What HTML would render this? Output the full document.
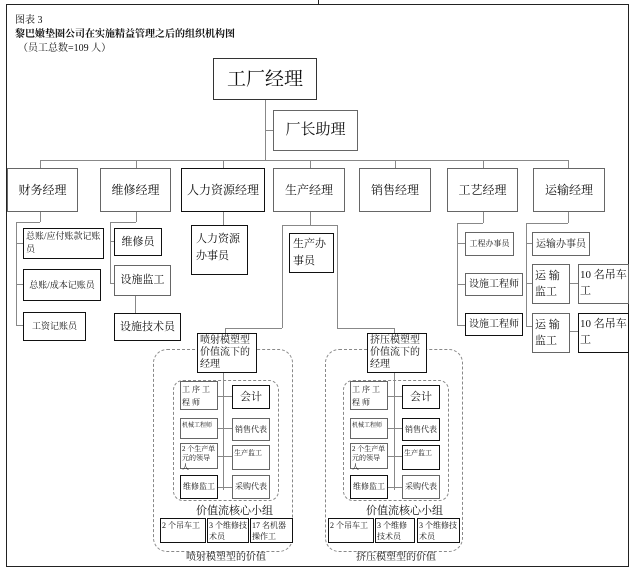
<!DOCTYPE html>
<html><head><meta charset="utf-8"><style>
body{margin:0;width:640px;height:569px;background:#fff;position:relative;overflow:hidden;font-family:"Liberation Serif","Noto Serif CJK SC","Noto Sans CJK SC",serif;color:#111}
.b{position:absolute;border:1px solid #666;box-sizing:border-box;background:#fff;font-size:11px;line-height:17px;padding:2px 3px}
.k{border:1.5px solid #111}
.c{display:flex;align-items:center;justify-content:center;text-align:center}
.h{position:absolute;height:0;border-top:1px solid #888}
.v{position:absolute;width:0;border-left:1px solid #888}
.s{font-size:8px;line-height:12px;padding:1px;white-space:nowrap}
.w{white-space:normal}
.d{position:absolute;border:1px dashed #888;border-radius:14px;box-sizing:border-box}
.t{position:absolute;font-size:11px;white-space:nowrap}
</style></head><body>
<div style="position:absolute;left:6px;top:4px;width:623px;height:563px;border:1px solid #222;border-right:1.5px solid #222;box-sizing:border-box"></div>
<div class="v" style="left:318px;top:0;height:4px;border-color:#222"></div>
<div class="t" style="left:15px;top:11px;font-size:10px">图表 3</div>
<div class="t" style="left:15px;top:25px;font-size:10px;font-weight:bold">黎巴嫩垫圈公司在实施精益管理之后的组织机构图</div>
<div class="t" style="left:18px;top:39px;font-size:10px">（员工总数=109 人）</div>

<div class="b c k" style="left:213px;top:58px;width:104px;height:42px;font-size:19px;border-color:#333">工厂经理</div>
<div class="v" style="left:265px;top:100px;height:60px"></div>
<div class="h" style="left:265px;top:130px;width:8px"></div>
<div class="b c" style="left:273px;top:110px;width:85px;height:41px;font-size:15px">厂长助理</div>
<div class="h" style="left:40px;top:160px;width:528px"></div>
<div class="v" style="left:40px;top:160px;height:8px"></div>
<div class="v" style="left:136px;top:160px;height:8px"></div>
<div class="v" style="left:223px;top:160px;height:8px"></div>
<div class="v" style="left:310px;top:160px;height:8px"></div>
<div class="v" style="left:395px;top:160px;height:8px"></div>
<div class="v" style="left:483px;top:160px;height:8px"></div>
<div class="v" style="left:568px;top:160px;height:8px"></div>

<div class="b c" style="left:7px;top:168px;width:71px;height:44px;font-size:12px">财务经理</div>
<div class="b c" style="left:100px;top:168px;width:71px;height:44px;font-size:12px">维修经理</div>
<div class="b c k" style="left:181px;top:168px;width:84px;height:44px;font-size:12px">人力资源经理</div>
<div class="b c" style="left:273px;top:168px;width:72px;height:44px;font-size:12px">生产经理</div>
<div class="b c" style="left:359px;top:168px;width:72px;height:44px;font-size:12px">销售经理</div>
<div class="b c" style="left:447px;top:168px;width:71px;height:44px;font-size:12px">工艺经理</div>
<div class="b c" style="left:533px;top:168px;width:72px;height:44px;font-size:12px">运输经理</div>

<!-- 财务 -->
<div class="v" style="left:40px;top:212px;height:10px"></div>
<div class="h" style="left:16px;top:222px;width:24px"></div>
<div class="v" style="left:16px;top:222px;height:104px"></div>
<div class="h" style="left:16px;top:243px;width:7px"></div>
<div class="h" style="left:16px;top:284px;width:7px"></div>
<div class="h" style="left:16px;top:325px;width:7px"></div>
<div class="b k" style="left:23px;top:228px;width:81px;height:31px;font-size:9px;line-height:13px;padding:1px 2px">总账/应付账款记账员</div>
<div class="b k c" style="left:23px;top:269px;width:78px;height:32px;font-size:9px;padding:1px">总账/成本记账员</div>
<div class="b k c" style="left:23px;top:312px;width:63px;height:29px;font-size:9px;padding:1px">工资记账员</div>

<!-- 维修 -->
<div class="v" style="left:136px;top:212px;height:10px"></div>
<div class="h" style="left:110px;top:222px;width:26px"></div>
<div class="v" style="left:110px;top:222px;height:62px"></div>
<div class="h" style="left:110px;top:241px;width:4px"></div>
<div class="h" style="left:110px;top:283px;width:4px"></div>
<div class="b c k" style="left:114px;top:228px;width:48px;height:28px">维修员</div>
<div class="b c" style="left:114px;top:265px;width:57px;height:31px">设施监工</div>
<div class="v" style="left:135px;top:296px;height:17px"></div>
<div class="b c k" style="left:114px;top:313px;width:67px;height:28px">设施技术员</div>

<!-- 人力 -->
<div class="v" style="left:223px;top:212px;height:13px"></div>
<div class="b k" style="left:191px;top:225px;width:57px;height:50px;padding:5px 4px;font-size:11px">人力资源办事员</div>

<!-- 生产 -->
<div class="v" style="left:310px;top:212px;height:13px"></div>
<div class="h" style="left:282px;top:225px;width:55px"></div>
<div class="v" style="left:282px;top:225px;height:103px"></div>
<div class="b k" style="left:289px;top:233px;width:45px;height:40px;font-size:11px;line-height:17px">生产办事员</div>
<div class="h" style="left:225px;top:328px;width:57px"></div>
<div class="v" style="left:225px;top:328px;height:6px"></div>
<div class="v" style="left:337px;top:225px;height:103px"></div>
<div class="h" style="left:337px;top:328px;width:57px"></div>
<div class="v" style="left:394px;top:328px;height:6px"></div>

<!-- 工艺 -->
<div class="v" style="left:483px;top:212px;height:11px"></div>
<div class="h" style="left:457px;top:223px;width:26px"></div>
<div class="v" style="left:457px;top:223px;height:103px"></div>
<div class="h" style="left:457px;top:243px;width:8px"></div>
<div class="h" style="left:457px;top:284px;width:8px"></div>
<div class="h" style="left:457px;top:325px;width:8px"></div>
<div class="b c s" style="left:465px;top:232px;width:49px;height:24px">工程办事员</div>
<div class="b c" style="left:465px;top:273px;width:58px;height:23px;font-size:10px;padding:1px">设施工程师</div>
<div class="b c k" style="left:465px;top:313px;width:58px;height:23px;font-size:10px;padding:1px">设施工程师</div>

<!-- 运输 -->
<div class="v" style="left:568px;top:212px;height:11px"></div>
<div class="h" style="left:526px;top:223px;width:42px"></div>
<div class="v" style="left:526px;top:223px;height:104px"></div>
<div class="h" style="left:526px;top:243px;width:6px"></div>
<div class="h" style="left:526px;top:283px;width:6px"></div>
<div class="h" style="left:526px;top:326px;width:6px"></div>
<div class="b c" style="left:532px;top:232px;width:58px;height:24px;font-size:10px;padding:1px">运输办事员</div>
<div class="b" style="left:532px;top:264px;width:38px;height:40px;line-height:16px;padding:3px 2px;white-space:nowrap">运 输<br>监工</div>
<div class="h" style="left:570px;top:283px;width:8px"></div>
<div class="b" style="left:578px;top:264px;width:51px;height:40px;line-height:16px;padding:2px 1px">10 名吊车工</div>
<div class="b" style="left:532px;top:313px;width:38px;height:40px;line-height:16px;padding:3px 2px;white-space:nowrap">运 输<br>监工</div>
<div class="h" style="left:570px;top:331px;width:8px"></div>
<div class="b k" style="left:578px;top:313px;width:51px;height:40px;line-height:16px;padding:2px 1px">10 名吊车工</div>

<!-- Value stream 1 -->
<div class="d" style="left:153px;top:349px;width:140px;height:203px"></div>
<div class="d" style="left:173px;top:380px;width:106px;height:121px;border-radius:10px"></div>
<div class="v" style="left:223px;top:372px;height:118px"></div>
<div class="h" style="left:218px;top:396px;width:14px"></div>
<div class="h" style="left:218px;top:428px;width:14px"></div>
<div class="h" style="left:218px;top:456px;width:14px"></div>
<div class="h" style="left:218px;top:487px;width:14px"></div>
<div class="b k" style="left:197px;top:333px;width:60px;height:40px;font-size:10px;line-height:12px;padding:1px 2px">喷射模塑型价值流下的经理</div>
<div class="b s w" style="left:180px;top:381px;width:38px;height:29px;line-height:13px">工 序 工 程 师</div>
<div class="b s" style="left:180px;top:418px;width:38px;height:21px;font-size:6px">机械工程师</div>
<div class="b s w" style="left:180px;top:443px;width:38px;height:26px;font-size:7px;line-height:9px">2 个生产单元的领导人</div>
<div class="b c s k" style="left:180px;top:475px;width:38px;height:24px">维修监工</div>
<div class="b c k" style="left:232px;top:385px;width:38px;height:24px;font-size:11px">会计</div>
<div class="b c s" style="left:232px;top:418px;width:38px;height:23px">销售代表</div>
<div class="b s" style="left:232px;top:445px;width:38px;height:25px;font-size:7px">生产监工</div>
<div class="b c s" style="left:232px;top:475px;width:38px;height:24px">采购代表</div>
<div class="t" style="left:196px;top:502px">价值流核心小组</div>
<div class="b s k w" style="left:160px;top:518px;width:46px;height:25px;line-height:11px">2 个吊车工</div>
<div class="b s k w" style="left:207px;top:518px;width:42px;height:25px;line-height:11px">3 个维修技术员</div>
<div class="b s k w" style="left:250px;top:518px;width:43px;height:25px;line-height:11px">17 名机器操作工</div>
<div class="t" style="left:186px;top:548px;font-size:10px">喷射模塑型的价值</div>

<!-- Value stream 2 -->
<div class="d" style="left:325px;top:349px;width:138px;height:203px"></div>
<div class="d" style="left:343px;top:380px;width:106px;height:121px;border-radius:10px"></div>
<div class="v" style="left:394px;top:372px;height:118px"></div>
<div class="h" style="left:388px;top:396px;width:14px"></div>
<div class="h" style="left:388px;top:428px;width:14px"></div>
<div class="h" style="left:388px;top:456px;width:14px"></div>
<div class="h" style="left:388px;top:487px;width:14px"></div>
<div class="b k" style="left:367px;top:333px;width:60px;height:40px;font-size:10px;line-height:12px;padding:1px 2px">挤压模塑型价值流下的经理</div>
<div class="b s w" style="left:350px;top:381px;width:38px;height:29px;line-height:13px">工 序 工 程 师</div>
<div class="b s" style="left:350px;top:418px;width:38px;height:21px;font-size:6px">机械工程师</div>
<div class="b s w" style="left:350px;top:443px;width:38px;height:26px;font-size:7px;line-height:9px">2 个生产单元的领导人</div>
<div class="b c s k" style="left:350px;top:475px;width:38px;height:24px">维修监工</div>
<div class="b c k" style="left:402px;top:385px;width:38px;height:24px;font-size:11px">会计</div>
<div class="b c s k" style="left:402px;top:418px;width:38px;height:23px">销售代表</div>
<div class="b s k" style="left:402px;top:445px;width:38px;height:25px;font-size:7px">生产监工</div>
<div class="b c s" style="left:402px;top:475px;width:38px;height:24px">采购代表</div>
<div class="t" style="left:366px;top:502px">价值流核心小组</div>
<div class="b s k w" style="left:328px;top:518px;width:46px;height:25px;line-height:11px">2 个吊车工</div>
<div class="b s k w" style="left:375px;top:518px;width:40px;height:25px;line-height:11px">3 个维修技术员</div>
<div class="b s k w" style="left:417px;top:518px;width:43px;height:25px;line-height:11px">3 个维修技术员</div>
<div class="t" style="left:356px;top:548px;font-size:10px">挤压模塑型的价值</div>
</body></html>
